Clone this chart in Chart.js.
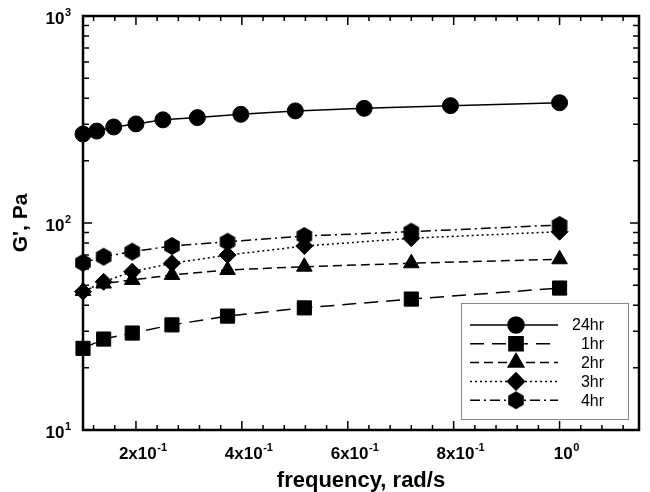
<!DOCTYPE html>
<html>
<head>
<meta charset="utf-8">
<script src="https://cdn.jsdelivr.net/npm/chart.js@4/dist/chart.umd.min.js"></script>
<style>
  html, body { margin: 0; padding: 0; background: #fff; }
  #wrap { width: 650px; height: 492px; }
</style>
</head>
<body>
<div id="wrap"><canvas id="c" width="650" height="492"></canvas></div>
<script>
// ---- data ----
const freq24 = [0.1, 0.126, 0.158, 0.2, 0.251, 0.316, 0.398, 0.501, 0.631, 0.794, 1.0];
const g24    = [269, 278, 291, 301, 315, 323, 335, 348, 358, 369, 381];
const freq   = [0.1, 0.139, 0.193, 0.268, 0.373, 0.518, 0.72, 1.0];
const g1hr   = [24.8, 27.5, 29.4, 32.2, 35.5, 38.9, 42.9, 48.5];
const g2hr   = [47, 51, 53.1, 56.1, 59.3, 61.5, 63.9, 66.8];
const g3hr   = [46.6, 52.0, 58.2, 63.9, 70.0, 77.4, 84.4, 90.8];
const g4hr   = [64.3, 68.7, 72.7, 77.4, 81.2, 86.5, 90.8, 97.8];
const seriesNames = ['24hr', '1hr', '2hr', '3hr', '4hr'];
const xTickValues = [0.2, 0.4, 0.6, 0.8, 1.0];
const xTickBase   = ['2x10', '4x10', '6x10', '8x10', '10'];
const xTickExp    = ['-1', '-1', '-1', '-1', '0'];
const yTickValues = [10, 100, 1000];
const yTickBase   = ['10', '10', '10'];
const yTickExp    = ['1', '2', '3'];
const xTitle = 'frequency, rad/s';
const yTitle = "G', Pa";

const FONT = "'Liberation Sans', Arial, Helvetica, sans-serif";
const BASE_FONT = 'bold 17px ' + FONT;
const EXP_FONT = 'bold 11px ' + FONT;

// hexagon marker
function hexagon(r) {
  const c = document.createElement('canvas');
  const s = Math.ceil(2 * r + 2);
  c.width = s; c.height = s;
  const g = c.getContext('2d');
  g.beginPath();
  for (let i = 0; i < 6; i++) {
    const a = -Math.PI / 2 + i * Math.PI / 3;
    const px = s / 2 + r * Math.cos(a), py = s / 2 + r * Math.sin(a);
    if (i === 0) g.moveTo(px, py); else g.lineTo(px, py);
  }
  g.closePath();
  g.fillStyle = '#000';
  g.fill();
  return c;
}
const hexImg = hexagon(9);

function pts(xs, ys) { return xs.map((x, i) => ({ x: x, y: ys[i] })); }

function ds(label, data, dash, style, radius) {
  return {
    label: label, data: data,
    borderColor: '#000', backgroundColor: '#000',
    pointBackgroundColor: '#000', pointBorderColor: '#000',
    borderWidth: 1.5, borderDash: dash,
    pointStyle: style, pointRadius: radius, pointHoverRadius: radius,
    pointBorderWidth: 1, tension: 0, clip: false, fill: false
  };
}

const datasets = [
  ds(seriesNames[0], pts(freq24, g24), [], 'circle', 8),
  ds(seriesNames[1], pts(freq, g1hr), [14, 8], 'rect', 10),
  ds(seriesNames[2], pts(freq, g2hr), [9, 5], 'triangle', 9),
  ds(seriesNames[3], pts(freq, g3hr), [2, 3], 'rectRot', 8.5),
  ds(seriesNames[4], pts(freq, g4hr), [10, 4, 2, 4], hexImg, 9)
];

function supLabelWidth(ctx, base, exp) {
  ctx.font = BASE_FONT; const wb = ctx.measureText(base).width;
  ctx.font = EXP_FONT; const we = ctx.measureText(exp).width;
  return [wb, we];
}
function drawSupLabel(ctx, base, exp, left, cy) {
  const [wb] = supLabelWidth(ctx, base, exp);
  ctx.textAlign = 'left';
  ctx.textBaseline = 'middle';
  ctx.font = BASE_FONT;
  ctx.fillText(base, left, cy);
  ctx.font = EXP_FONT;
  ctx.fillText(exp, left + wb + 0.5, cy - 6);
}

const framePlugin = {
  id: 'frame',
  beforeDatasetsDraw(chart) {
    const ctx = chart.ctx, a = chart.chartArea;
    const xs = chart.scales.x, ys = chart.scales.y;
    ctx.save();
    ctx.strokeStyle = '#000';
    ctx.lineWidth = 1.5;
    ctx.beginPath();
    // x ticks (top & bottom), minor every 0.04
    for (let k = 3; k <= 28; k++) {
      const v = k * 0.04;
      if (v < xs.min || v > xs.max) continue;
      const major = (k % 5 === 0);
      const L = major ? 9 : 5;
      const px = xs.getPixelForValue(v);
      ctx.moveTo(px, a.bottom); ctx.lineTo(px, a.bottom - L);
      ctx.moveTo(px, a.top); ctx.lineTo(px, a.top + L);
    }
    // y ticks (left & right)
    for (let d = 10; d < 1000; d *= 10) {
      for (let m = 1; m <= 10; m++) {
        const v = d * m;
        const major = (m === 1 || m === 10);
        const L = major ? 9 : 6;
        const py = ys.getPixelForValue(v);
        ctx.moveTo(a.left, py); ctx.lineTo(a.left + L, py);
        ctx.moveTo(a.right, py); ctx.lineTo(a.right - L, py);
      }
    }
    ctx.stroke();
    ctx.lineWidth = 2.5;
    ctx.strokeRect(a.left, a.top, a.right - a.left, a.bottom - a.top);

    // tick labels with superscript exponents
    ctx.fillStyle = '#000';
    xTickValues.forEach((v, i) => {
      const px = xs.getPixelForValue(v);
      const [wb, we] = supLabelWidth(ctx, xTickBase[i], xTickExp[i]);
      const w = wb + we + 0.5;
      drawSupLabel(ctx, xTickBase[i], xTickExp[i], px + 7 - w / 2, a.bottom + 24);
    });
    yTickValues.forEach((v, i) => {
      const py = ys.getPixelForValue(v);
      const [wb, we] = supLabelWidth(ctx, yTickBase[i], yTickExp[i]);
      const w = wb + we + 0.5;
      drawSupLabel(ctx, yTickBase[i], yTickExp[i], a.left - 12 - w, py + 3);
    });
    ctx.restore();
  },
  afterDraw(chart) {
    const ctx = chart.ctx;
    const bx = 461, by = 303, bw = 167, bh = 116;
    ctx.save();
    ctx.fillStyle = '#fff';
    ctx.fillRect(bx, by, bw, bh);
    ctx.strokeStyle = '#888';
    ctx.lineWidth = 1;
    ctx.strokeRect(bx + 0.5, by + 0.5, bw, bh);
    chart.data.datasets.forEach((d, i) => {
      const y = 325 + i * 18.8;
      ctx.save();
      ctx.strokeStyle = '#000';
      ctx.lineWidth = d.borderWidth;
      ctx.setLineDash(d.borderDash);
      ctx.beginPath();
      ctx.moveTo(470, y); ctx.lineTo(558, y);
      ctx.stroke();
      ctx.setLineDash([]);
      ctx.fillStyle = '#000';
      Chart.helpers.drawPoint(ctx, { pointStyle: d.pointStyle, radius: d.pointRadius, rotation: 0, borderWidth: 1 }, 516, y);
      ctx.restore();
      ctx.fillStyle = '#000';
      ctx.font = '16px ' + FONT;
      ctx.textAlign = 'right';
      ctx.textBaseline = 'middle';
      ctx.fillText(d.label, 604, y + 1);
    });
    ctx.restore();
  }
};

new Chart(document.getElementById('c'), {
  type: 'line',
  data: { datasets: datasets },
  plugins: [framePlugin],
  options: {
    responsive: false,
    animation: false,
    layout: { padding: { left: 0, top: 16, right: 10, bottom: 0 } },
    plugins: { legend: { display: false }, tooltip: { enabled: false } },
    scales: {
      x: {
        type: 'linear', min: 0.1, max: 1.15,
        afterBuildTicks: s => { s.ticks = xTickValues.map(v => ({ value: v })); },
        afterFit: s => { s.height = 62; },
        grid: { display: false, drawTicks: false },
        border: { display: false },
        ticks: { display: false },
        title: {
          display: true, text: xTitle, color: '#000',
          font: { family: FONT, weight: 'bold', size: 22, lineHeight: 1 },
          padding: { top: 0, bottom: 0 }
        }
      },
      y: {
        type: 'logarithmic', min: 10, max: 1000,
        afterBuildTicks: s => { s.ticks = yTickValues.map(v => ({ value: v })); },
        afterFit: s => { s.width = 83; },
        grid: { display: false, drawTicks: false },
        border: { display: false },
        ticks: { display: false },
        title: {
          display: true, text: yTitle, color: '#000',
          font: { family: FONT, weight: 'bold', size: 21, lineHeight: 1 },
          padding: { top: 11, bottom: 0 }
        }
      }
    }
  }
});
</script>
</body>
</html>
